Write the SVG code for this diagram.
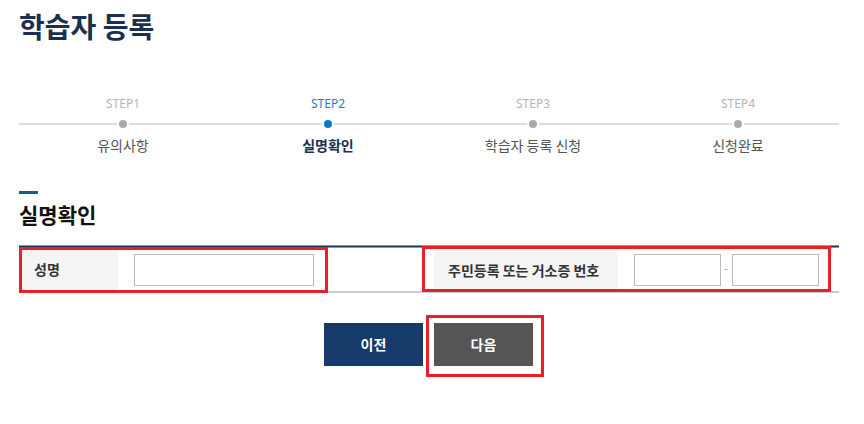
<svg xmlns="http://www.w3.org/2000/svg" width="864" height="424" viewBox="0 0 864 424">
<style>
text{font-family:"Noto Sans CJK KR","Noto Sans",sans-serif}
.st{font-size:12px;fill:#b5b5b5;text-anchor:middle;font-family:"Noto Sans","Noto Sans CJK KR",sans-serif}
.sl{font-size:14px;fill:#555;text-anchor:middle}
.lbl{font-size:14px;font-weight:bold;fill:#333}
.inp{fill:#fff;stroke:#bbb;stroke-width:1}
.red{fill:none;stroke:#e8202a;stroke-width:3}
.dot{fill:#aaa;stroke:#fff;stroke-width:2}
</style>
<text x="19" y="38" font-size="28" font-weight="bold" fill="#1c2f4f">학습자 등록</text>
<g id="steps">
<line x1="19" y1="124" x2="839" y2="124" stroke="#ddd" stroke-width="2"/>
<g id="step1"><text class="st" x="123" y="108">STEP1</text><circle class="dot" cx="123" cy="124" r="5"/><text class="sl" x="123" y="151">유의사항</text></g>
<g id="step2"><text class="st" x="328" y="108" fill="#1a7fc4" style="fill:#1a7fc4">STEP2</text><circle cx="328" cy="124" r="5" fill="#0a78c8" stroke="#fff" stroke-width="2"/><text class="sl" x="328" y="151" style="fill:#1c2f4f;font-weight:bold">실명확인</text></g>
<g id="step3"><text class="st" x="533" y="108">STEP3</text><circle class="dot" cx="533" cy="124" r="5"/><text class="sl" x="533" y="151">학습자 등록 신청</text></g>
<g id="step4"><text class="st" x="738" y="108">STEP4</text><circle class="dot" cx="738" cy="124" r="5"/><text class="sl" x="738" y="151">신청완료</text></g>
</g>
<rect x="19" y="191" width="19" height="3" fill="#1b5a8a"/>
<text x="19" y="223" font-size="21" font-weight="bold" fill="#111">실명확인</text>
<g id="form">
<line x1="19" y1="292" x2="839" y2="292" stroke="#999" stroke-width="1"/>
<rect x="19" y="247" width="99" height="45" fill="#f4f4f4"/>
<rect x="434" y="247" width="184" height="45" fill="#f4f4f4"/>
<line x1="19" y1="246.5" x2="839" y2="246.5" stroke="#1c3558" stroke-width="2"/>
<text class="lbl" x="34" y="275">성명</text>
<text class="lbl" x="448" y="276">주민등록 또는 거소증 번호</text>
<rect class="inp" x="134.5" y="254.5" width="179" height="31"/>
<rect class="inp" x="634.5" y="254.5" width="86" height="31"/>
<rect class="inp" x="732.5" y="254.5" width="86" height="31"/>
<text x="726" y="273" font-size="12" fill="#aaa" text-anchor="middle">-</text>
</g>
<g id="btnPrev"><rect x="324" y="323" width="99" height="43" fill="#163a6a"/><text x="373.5" y="350" font-size="14" font-weight="bold" fill="#fff" text-anchor="middle">이전</text></g>
<g id="btnNext"><rect x="434" y="323" width="99" height="43" fill="#555"/><text x="483.5" y="350" font-size="14" font-weight="bold" fill="#fff" text-anchor="middle">다음</text></g>
<g id="highlights">
<rect class="red" x="20.5" y="248.5" width="306" height="43"/>
<rect class="red" x="423.5" y="247.5" width="406" height="43"/>
<rect class="red" x="427.5" y="316.5" width="115" height="59"/>
</g>
</svg>
